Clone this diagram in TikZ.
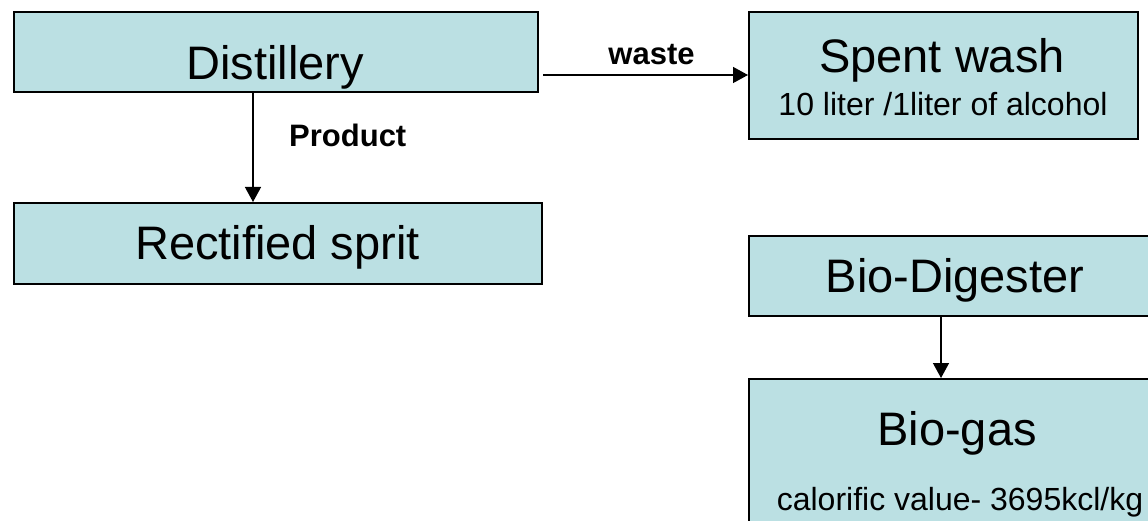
\documentclass[tikz,border=0pt]{standalone}
\usepackage{fontspec}
\setmainfont{Liberation Sans}
\usetikzlibrary{arrows.meta}
\definecolor{boxfill}{RGB}{187,224,227}
\tikzset{
  box/.style={draw=black, fill=boxfill, line width=2pt, inner sep=0pt, anchor=north west},
  bigtxt/.style={anchor=base, inner sep=0pt, font=\fontsize{47}{56}\selectfont},
  smalltxt/.style={anchor=base, inner sep=0pt, font=\fontsize{32}{38}\selectfont},
  lbl/.style={anchor=base, inner sep=0pt, font=\bfseries\fontsize{31}{37}\selectfont},
  arr/.style={line width=1.4pt, -{Triangle[length=15pt,width=16pt]}}
}
\begin{document}
\begin{tikzpicture}[x=1pt,y=-1pt]
\clip (0,0) rectangle (1148,521);
\fill[white] (0,0) rectangle (1148,521);
% boxes
\node[box, minimum width=524.5pt, minimum height=80pt] (dist) at (12.5,11) {};
\node[box, minimum width=528.5pt, minimum height=81pt] (rect) at (12.5,202) {};
\node[box, minimum width=389pt, minimum height=127pt] (spent) at (748,11) {};
\node[box, minimum width=420pt, minimum height=80pt] (bdig) at (748,235) {};
\node[box, minimum width=420pt, minimum height=170pt] (bgas) at (748,378) {};
% texts
\node[bigtxt] (tdist) at (275,80) {Distillery};
\node[bigtxt] (trect) at (277.5,260) {Rectified sprit};
\node[bigtxt] (tspent) at (942,73) {Spent wash};
\node[smalltxt] (tspent2) at (943,116) {10 liter /1liter of alcohol};
\node[bigtxt] (tbdig) at (955,292) {Bio-Digester};
\node[bigtxt] (tbgas) at (957,445) {Bio-gas};
\node[smalltxt] (tbgas2) at (960,510) {calorific value- 3695kcl/kg};
\node[lbl, anchor=base west] (lprod) at (289,147) {Product};
\node[lbl] (lwaste) at (651.5,65) {waste};
% connectors
\coordinate (xa) at (253,0);
\coordinate (wy) at (0,75);
\coordinate (xb) at (941,0);
\draw[arr] (dist.south -| xa) -- (rect.north -| xa);
\draw[arr] ([xshift=4pt]dist.east |- wy) -- (spent.west |- wy);
\draw[arr] (bdig.south -| xb) -- (bgas.north -| xb);
\end{tikzpicture}
\end{document}
